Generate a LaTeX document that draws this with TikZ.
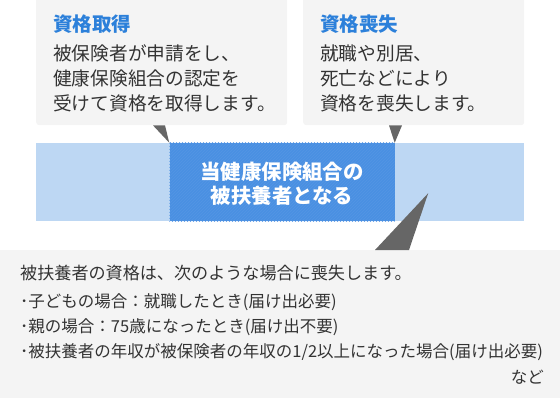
\documentclass[tikz,border=0pt]{standalone}
\usepackage{fontspec}
\setmainfont{Noto Sans CJK JP}
\usetikzlibrary{positioning,calc,patterns}
\definecolor{panelgray}{HTML}{F4F4F4}
\definecolor{tipgray}{HTML}{666666}
\definecolor{bandlight}{HTML}{BDD7F3}
\definecolor{banddark}{HTML}{4A90E2}
\definecolor{bandstripe}{HTML}{5496E4}
\definecolor{headblue}{HTML}{2C80DA}
\definecolor{inktext}{HTML}{333333}

\begin{document}
\begin{tikzpicture}[x=1pt,y=-1pt,
  panel/.style={fill=panelgray,rounded corners=3pt,inner sep=0pt,anchor=north west},
  headtext/.style={anchor=west,inner sep=0pt,text=headblue,font=\fontsize{19.5}{23}\selectfont\bfseries},
  bodytext/.style={anchor=west,inner sep=0pt,text=inktext,font=\fontsize{18.7}{23}\selectfont},
  notetext/.style={anchor=west,inner sep=0pt,text=inktext,font=\fontsize{16.5}{22}\selectfont},
  pointer/.style={fill=tipgray}]
\useasboundingbox (0,0) rectangle (560,400);
\node[panel,minimum width=251pt,minimum height=129pt] (gain) at (36,-4) {};
\node[panel,minimum width=221pt,minimum height=129pt] (loss) at (303,-4) {};
\node[panel,rounded corners=0pt,minimum width=560pt,minimum height=148pt] (detail) at (0,250) {};
\node[fill=bandlight,inner sep=0pt,minimum width=488pt,minimum height=78pt] (band) at (280,182) {};
\node[fill=banddark,inner sep=0pt,minimum width=225pt,minimum height=78pt] (core) at (282,182) {};
\fill[pattern=north east lines,pattern color=bandstripe] (core.south west) rectangle (core.north east);
\node[align=center,inner sep=0pt,text=white,font=\fontsize{20.4}{24}\selectfont\bfseries] (coretext) at (282,184) {当健康保険組合の\\被扶養者となる};
\fill[pointer] ($(gain.south west)+(117,0)$) -- ($(gain.south west)+(129,0)$) -- (core.north west) -- cycle;
\fill[pointer] ($(loss.south west)+(86,0)$) -- ($(loss.south west)+(99,0)$) -- (core.north east) -- cycle;
\fill[pointer] ($(detail.north west)+(375,0)$) -- ($(detail.north west)+(409,0)$) -- ($(band.south east)+(-96,-28)$) -- cycle;
\node[headtext] (gainhead) at (53,24) {資格取得};
\foreach \t [count=\i] in {被保険者が申請をし、,健康保険組合の認定を,受けて資格を取得します。}
  \node[bodytext] (gain\i) at (53,29+24.7*\i) {\t};
\node[headtext] (losshead) at (320,24) {資格喪失};
\foreach \t [count=\i] in {就職や別居、,死亡などにより,資格を喪失します。}
  \node[bodytext] (loss\i) at (320,29+24.7*\i) {\t};
\node[notetext,font=\fontsize{17.1}{22}\selectfont] (notehead) at (20,273) {被扶養者の資格は、次のような場合に喪失します。};
\foreach \t [count=\i] in {子どもの場合：就職したとき(届け出必要),親の場合：75歳になったとき(届け出不要),被扶養者の年収が被保険者の年収の1/2以上になった場合(届け出必要)}
  \node[notetext] (case\i) at (20,277+25*\i) {･\t};
\node[notetext,anchor=east] (etc) at (544,377) {など};
\end{tikzpicture}
\end{document}
